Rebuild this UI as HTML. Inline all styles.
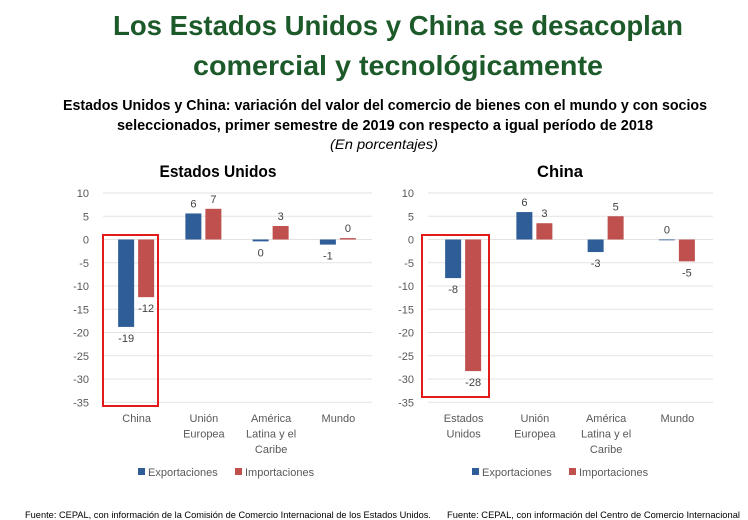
<!DOCTYPE html>
<html><head><meta charset="utf-8"><style>
html,body{margin:0;padding:0;background:#fff;}
svg{display:block;font-family:"Liberation Sans",sans-serif;}
</style></head><body>
<svg id="s" width="748" height="520" viewBox="0 0 748 520">
<text x="398" y="35" text-anchor="middle" font-size="28" font-weight="bold" fill="#1d5a2a" textLength="570" lengthAdjust="spacingAndGlyphs">Los Estados Unidos y China se desacoplan</text>
<text x="398" y="75" text-anchor="middle" font-size="28" font-weight="bold" fill="#1d5a2a" textLength="410" lengthAdjust="spacingAndGlyphs">comercial y tecnológicamente</text>
<text x="385" y="110" text-anchor="middle" font-size="15" font-weight="bold" fill="#000" textLength="644" lengthAdjust="spacingAndGlyphs">Estados Unidos y China: variación del valor del comercio de bienes con el mundo y con socios</text>
<text x="385" y="130" text-anchor="middle" font-size="15" font-weight="bold" fill="#000" textLength="536" lengthAdjust="spacingAndGlyphs">seleccionados, primer semestre de 2019 con respecto a igual período de 2018</text>
<text x="384" y="149" text-anchor="middle" font-size="14" font-style="italic" fill="#000" textLength="108" lengthAdjust="spacingAndGlyphs">(En porcentajes)</text>
<text x="218" y="177" text-anchor="middle" font-size="17" font-weight="bold" fill="#000" textLength="117" lengthAdjust="spacingAndGlyphs">Estados Unidos</text>
<text x="560" y="177" text-anchor="middle" font-size="17" font-weight="bold" fill="#000" textLength="46" lengthAdjust="spacingAndGlyphs">China</text>
<text x="25" y="518" font-size="9.5" fill="#000" textLength="406" lengthAdjust="spacingAndGlyphs">Fuente: CEPAL, con información de la Comisión de Comercio Internacional de los Estados Unidos.</text>
<text x="447" y="518" font-size="9.5" fill="#000" textLength="293" lengthAdjust="spacingAndGlyphs">Fuente: CEPAL, con información del Centro de Comercio Internacional</text>
<g id="g1"></g><g id="g2"></g>
</svg>
<script>
const ticks = [10,5,0,-5,-10,-15,-20,-25,-30,-35];
const catsUS = [["China"],["Unión","Europea"],["América","Latina y el","Caribe"],["Mundo"]];
const expUS = [-18.8,5.6,-0.4,-1.1];
const impUS = [-12.4,6.6,2.9,0.3];
const lblExpUS = ["-19","6","0","-1"];
const lblImpUS = ["-12","7","3","0"];
const catsCN = [["Estados","Unidos"],["Unión","Europea"],["América","Latina y el","Caribe"],["Mundo"]];
const expCN = [-8.3,5.9,-2.7,0];
const impCN = [-28.3,3.5,5.0,-4.7];
const lblExpCN = ["-8","6","-3","0"];
const lblImpCN = ["-28","3","5","-5"];
const seriesNames = ["Exportaciones","Importaciones"];
const NS="http://www.w3.org/2000/svg";
function mk(p,tag,a,txt){const e=document.createElementNS(NS,tag);for(const k in a)e.setAttribute(k,a[k]);if(txt!==undefined)e.textContent=txt;p.appendChild(e);return e;}
function chart(g,x0,x1,cats,ex,im,lex,lim,box,legX,name){
  const y=v=>239.5-(v)*4.65;
  const cw=(x1-x0)/cats.length;
  const cx=i=>x0+cw*(i+0.5);
  ticks.forEach(t=>{
    const l=mk(g,"line",{x1:x0,x2:x1,y1:y(t),y2:y(t),stroke:"#e3e3e3","stroke-width":1});
    
    
    const tx=mk(g,"text",{x:x0-14,y:y(t)+4,"text-anchor":"end","font-size":11,fill:"#595959"},String(t));
    
    
  });
  [[ex,lex,"#2f5d97",-18.5],[im,lim,"#c0504d",1.5]].forEach(([vals,lbls,col,off],si)=>{
    vals.forEach((v,i)=>{
      const top=Math.min(y(v),y(0)), h=Math.max(Math.abs(y(v)-y(0)),0.8);
      const r=mk(g,"rect",{x:cx(i)+off,y:top,width:16,height:h,fill:col});
      
      
      const ly = v>=0 ? y(v)-6 : y(v)+15;
      const t=mk(g,"text",{x:cx(i)+off+8,y:ly,"text-anchor":"middle","font-size":11,fill:"#404040"},lbls[i]);
      
      
    });
  });
  cats.forEach((c,i)=>{c.forEach((ln,j)=>{
    const t=mk(g,"text",{x:cx(i),y:422+j*15.5,"text-anchor":"middle","font-size":11,fill:"#595959"},ln);
    
    
  });});
  const b=mk(g,"rect",{x:box[0],y:box[1],width:box[2]-box[0],height:box[3]-box[1],fill:"none",stroke:"#e21a1a","stroke-width":2});
  
  
  const cols=["#2f5d97","#c0504d"], lx=[legX,legX+97];
  seriesNames.forEach((n,k)=>{
    const s=mk(g,"rect",{x:lx[k],y:468,width:7,height:7,fill:cols[k]});
    
    
    const t=mk(g,"text",{x:lx[k]+10,y:476,"font-size":11,fill:"#595959"},n);
    
    
  });
}
chart(document.getElementById('g1'),103,372,catsUS,expUS,impUS,lblExpUS,lblImpUS,[103,235,158,406],138,'us');
chart(document.getElementById('g2'),428,713,catsCN,expCN,impCN,lblExpCN,lblImpCN,[422,235,489,397],472,'china');
</script>
</body></html>
